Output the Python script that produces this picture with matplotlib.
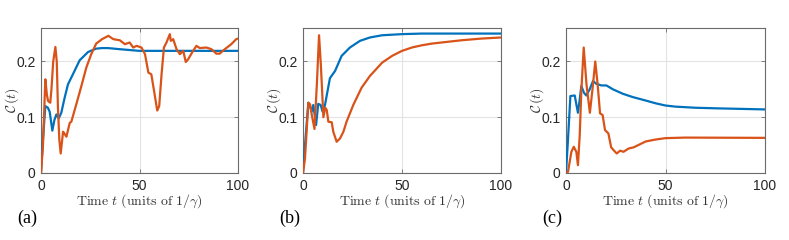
import matplotlib
matplotlib.use("Agg")
import matplotlib.pyplot as plt

plt.rcParams["mathtext.fontset"] = "cm"

# panel (a)
t_a_blue = [0, 1, 2.2, 3.5, 4.4, 5.75, 6.8, 7.8, 9, 10.3, 12, 13.7, 16.2, 19.6, 23.9, 28, 31, 34, 40, 50, 60, 100]
c_a_blue = [0, 0.06, 0.12, 0.117, 0.11, 0.076, 0.095, 0.105, 0.098, 0.108, 0.135, 0.159, 0.177, 0.202, 0.217,
            0.223, 0.224, 0.224, 0.222, 0.219, 0.219, 0.219]
t_a_orange = [0, 1, 2.2, 3.0, 3.6, 4.7, 5.3, 6.2, 7.3, 8.0, 8.6, 9.3, 10, 11.2, 12.0, 12.9, 14.6, 15.4, 17.9,
              20.5, 23, 25.5, 28, 31, 34.2, 36.7, 40, 42.6, 45, 46.8, 48.5, 51, 52.8, 54.5, 56, 57.4, 59, 60,
              61.2, 62.4, 63.7, 65.4, 65.9, 67.1, 68.8, 70.5, 72.2, 73.5, 74.7, 77.2, 78.9, 80.6, 84, 86.5,
              89, 90.7, 93.3, 96.6, 99.1, 100]
c_a_orange = [0, 0.05, 0.168, 0.14, 0.129, 0.126, 0.15, 0.2, 0.226, 0.2, 0.117, 0.06, 0.035, 0.074, 0.07, 0.065,
              0.09, 0.092, 0.123, 0.156, 0.189, 0.213, 0.232, 0.240, 0.246, 0.24, 0.238, 0.231, 0.234, 0.225,
              0.228, 0.225, 0.213, 0.18, 0.177, 0.147, 0.112, 0.12, 0.177, 0.225, 0.234, 0.249, 0.237, 0.24,
              0.222, 0.213, 0.219, 0.199, 0.204, 0.219, 0.228, 0.224, 0.225, 0.222, 0.214, 0.214, 0.222,
              0.231, 0.24, 0.241]

# panel (b)
t_b_blue = [0, 1, 2.7, 3.5, 4.4, 5.2, 6.6, 7.7, 8.9, 9.9, 11.1, 13.6, 16.2, 19.5, 23.7, 28.8, 33.8, 40, 50, 60, 100]
c_b_blue = [0, 0.05, 0.126, 0.12, 0.11, 0.122, 0.086, 0.124, 0.122, 0.11, 0.122, 0.17, 0.183, 0.21, 0.225,
            0.237, 0.243, 0.247, 0.249, 0.25, 0.25]
t_b_orange = [0, 1, 2.7, 3.6, 4.4, 5.8, 7, 8.1, 9, 10.3, 11.2, 12, 12.8, 14.5, 15.3, 17, 18.7, 20.4, 22, 25.4,
              29.6, 33.8, 40, 45, 50, 55, 60, 65, 70, 75, 80, 90, 100]
c_b_orange = [0, 0.026, 0.126, 0.123, 0.105, 0.079, 0.159, 0.247, 0.195, 0.1, 0.117, 0.113, 0.092, 0.091,
              0.074, 0.056, 0.062, 0.074, 0.092, 0.122, 0.153, 0.174, 0.198, 0.210, 0.219, 0.225, 0.229,
              0.232, 0.234, 0.236, 0.238, 0.241, 0.243]

# panel (c)
t_c_blue = [0, 1, 2.2, 4.4, 5.2, 6, 6.9, 7.7, 9, 10.2, 11.9, 13.6, 15.2, 17.8, 20.3, 23.6, 28.6, 33.7, 40, 45,
            50, 55, 65, 75, 100]
c_c_blue = [0, 0.06, 0.138, 0.139, 0.123, 0.108, 0.132, 0.156, 0.144, 0.139, 0.15, 0.165, 0.16, 0.157, 0.157,
            0.15, 0.142, 0.136, 0.13, 0.125, 0.121, 0.119, 0.117, 0.116, 0.114]
t_c_orange = [0, 1, 2.7, 3.9, 5.2, 6, 6.9, 7.7, 8.9, 10.3, 12, 13.4, 14.7, 15.9, 17.1, 18.4, 19.6, 21.3, 22.7,
              23.9, 25.5, 27.2, 28.9, 31.5, 34, 40, 45, 50, 55, 60, 100]
c_c_orange = [0, 0.002, 0.038, 0.047, 0.038, 0.014, 0.068, 0.147, 0.225, 0.159, 0.108, 0.153, 0.2, 0.159,
              0.107, 0.104, 0.077, 0.071, 0.046, 0.041, 0.035, 0.04, 0.038, 0.044, 0.046, 0.0565, 0.060,
              0.0625, 0.063, 0.0635, 0.063]

panel_labels = ["(a)", "(b)", "(c)"]
xticks = [0, 50, 100]
yticks = [0, 0.1, 0.2]
yticklabels = ["0", "0.1", "0.2"]

blue = "#0072BD"
orange = "#D95319"

panels = [
    (t_a_blue, c_a_blue, t_a_orange, c_a_orange),
    (t_b_blue, c_b_blue, t_b_orange, c_b_orange),
    (t_c_blue, c_c_blue, t_c_orange, c_c_orange),
]
lefts = [41, 303, 566]
widths = [197, 198, 199]

fig = plt.figure(figsize=(7.89, 2.4), dpi=100)
for i, (tb, cb, to, co) in enumerate(panels):
    ax = fig.add_axes([lefts[i] / 789, 1 - 173 / 240, widths[i] / 789, 145 / 240])
    ax.plot(tb, cb, color=blue, lw=1.6, zorder=3)
    ax.plot(to, co, color=orange, lw=1.6, zorder=3)
    ax.set_xlim(0, 100)
    ax.set_ylim(0, 0.26)
    ax.set_xticks(xticks)
    ax.set_yticks(yticks)
    ax.set_yticklabels(yticklabels)
    ax.grid(True, color="#e3e3e3", lw=0.8)
    ax.set_axisbelow(True)
    for s in ax.spines.values():
        s.set_color("#6b6b6b")
        s.set_linewidth(0.8)
    ax.tick_params(direction="in", length=3, width=0.6, color="#6b6b6b", top=True, right=True,
                   labelsize=10, labelcolor="#262626", pad=4)
    for lab in ax.get_xticklabels() + ax.get_yticklabels():
        lab.set_family("Liberation Sans")
    ax.set_xlabel(r"$\mathrm{Time}\ t\ \mathrm{(units\ of\ }1/\gamma\mathrm{)}$", fontsize=10, labelpad=0,
                  color="#333333")
    ax.set_ylabel(r"$\mathcal{C}\,(t)$", fontsize=10, color="#333333", va="center")
    ax.yaxis.set_label_coords(-29 / widths[i], 0.5)
    fig.text((lefts[i] - 24) / 789, 1 - 218 / 240, panel_labels[i], family="Liberation Serif",
             fontsize=13, va="center", ha="left")

fig.savefig("out.png", dpi=100)
